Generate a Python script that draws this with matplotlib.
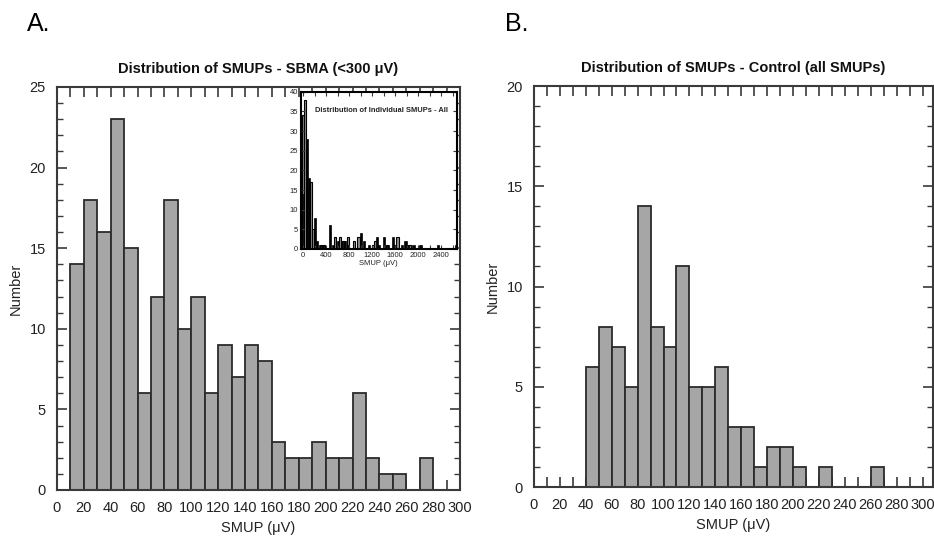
import matplotlib.pyplot as plt
from matplotlib.ticker import MultipleLocator

plt.rcParams['font.family'] = ['Liberation Sans', 'DejaVu Sans']

# --- Panel A: SBMA SMUPs (<300 uV), 10 uV bins ---
sbma_bin_left = [10, 20, 30, 40, 50, 60, 70, 80, 90, 100, 110, 120, 130, 140,
                 150, 160, 170, 180, 190, 200, 210, 220, 230, 240, 250, 260,
                 270, 280]
sbma_counts = [14, 18, 16, 23, 15, 6, 12, 18, 10, 12, 6, 9, 7, 9,
               8, 3, 2, 2, 3, 2, 2, 6, 2, 1, 1, 0, 2, 0]

# --- Panel B: Control SMUPs, 10 uV bins ---
ctrl_bin_left = [40, 50, 60, 70, 80, 90, 100, 110, 120, 130, 140, 150, 160,
                 170, 180, 190, 200, 210, 220, 230, 240, 250, 260]
ctrl_counts = [6, 8, 7, 5, 14, 8, 7, 11, 5, 5, 6, 3, 3,
               1, 2, 2, 1, 0, 1, 0, 0, 0, 1]

# --- Inset: all individual SMUPs (two overlaid series) ---
inset_black_x = [-40, 45, 80, 190, 225, 270, 330, 440, 500, 580, 700, 760,
                 980, 1040, 1130, 1260, 1300, 1390, 1460, 1540, 1700, 1760,
                 1800, 1900, 2020, 2330, 2640]
inset_black_n = [14, 28, 18, 8, 2, 1, 1, 6, 1, 2, 2, 1,
                 4, 2, 1, 3, 1, 3, 1, 3, 1, 2,
                 1, 1, 1, 1, 1]
inset_grey_x = [-20, 5, 110, 155, 290, 345, 530, 620, 680, 760, 860, 940,
                1200, 1240, 1440, 1560, 1620, 1830]
inset_grey_n = [34, 38, 17, 5, 1, 1, 3, 3, 2, 3, 2, 3,
                1, 2, 1, 1, 3, 1]

BAR_FACE = '#a6a6a6'
BAR_EDGE = '#2b2b2b'
SPINE = '#3a3a3a'
TEXT = '#222222'


def style_axes(ax, xmax, ymax):
    ax.set_xlim(0, xmax)
    ax.set_ylim(0, ymax)
    ax.set_axisbelow(True)
    ax.set_xticks(range(0, 301, 20))
    ax.xaxis.set_minor_locator(MultipleLocator(10))
    ax.yaxis.set_major_locator(MultipleLocator(5))
    ax.yaxis.set_minor_locator(MultipleLocator(1))
    ax.tick_params(which='both', direction='in', top=True, right=True,
                   color=SPINE, labelcolor=TEXT, labelsize=10.5)
    ax.tick_params(which='major', length=7, width=1.2, pad=8)
    ax.tick_params(which='minor', length=4, width=1.0)
    ax.tick_params(axis='x', which='minor', length=7, width=1.2)
    for sp in ax.spines.values():
        sp.set_color(SPINE)
        sp.set_linewidth(1.5)
    ax.set_xlabel('SMUP (\u03bcV)', fontsize=10.5, color=TEXT, labelpad=4)
    ax.set_ylabel('Number', fontsize=10.5, color=TEXT, labelpad=5)


fig = plt.figure(figsize=(9.34, 5.40), dpi=100)

# Panel A
axA = fig.add_axes([0.0610, 0.0926, 0.4315, 0.7463])
axA.bar(sbma_bin_left, sbma_counts, width=10, align='edge',
        color=BAR_FACE, edgecolor=BAR_EDGE, linewidth=1.3)
style_axes(axA, 300, 25)
axA.set_title('Distribution of SMUPs - SBMA (<300 \u03bcV)', fontsize=10.5,
              fontweight='bold', pad=10, color='#111111')

# Panel B
axB = fig.add_axes([0.5717, 0.0981, 0.4272, 0.7426])
axB.bar(ctrl_bin_left, ctrl_counts, width=10, align='edge',
        color=BAR_FACE, edgecolor=BAR_EDGE, linewidth=1.3)
style_axes(axB, 308, 20)
axB.set_title('Distribution of SMUPs - Control (all SMUPs)', fontsize=10.5,
              fontweight='bold', pad=10, color='#111111')

# Inset in panel A
axI = fig.add_axes([0.3219, 0.5389, 0.1670, 0.2913])
axI.set_facecolor('white')
axI.bar(inset_grey_x, inset_grey_n, width=40, align='edge',
        color='#8c8c8c', edgecolor='black', linewidth=0.8)
axI.bar(inset_black_x, inset_black_n, width=40, align='edge',
        color='black', edgecolor='black', linewidth=0.5)
axI.set_xlim(-45, 2670)
axI.set_ylim(0, 40)
axI.set_xticks(range(0, 2401, 400))
axI.xaxis.set_minor_locator(MultipleLocator(200))
axI.yaxis.set_major_locator(MultipleLocator(5))
axI.tick_params(which='both', direction='in', top=True, right=True,
                labelsize=5.5, color=SPINE, labelcolor=TEXT, pad=2)
axI.tick_params(which='major', length=3, width=0.8)
axI.tick_params(which='minor', length=3, width=0.8)
for sp in axI.spines.values():
    sp.set_color('black')
    sp.set_linewidth(1.5)
axI.set_xlabel('SMUP (\u03bcV)', fontsize=5.5, color=TEXT, labelpad=1)
axI.text(0.52, 0.88, 'Distribution of Individual SMUPs - All',
         transform=axI.transAxes, ha='center', va='center',
         fontsize=5.4, fontweight='bold', color='#222222')

# Panel letters
fig.text(27 / 934, 1 - 24 / 540, 'A.', fontsize=18, ha='left', va='center')
fig.text(505 / 934, 1 - 24 / 540, 'B.', fontsize=18, ha='left', va='center')

fig.savefig('out.png', dpi=100)
